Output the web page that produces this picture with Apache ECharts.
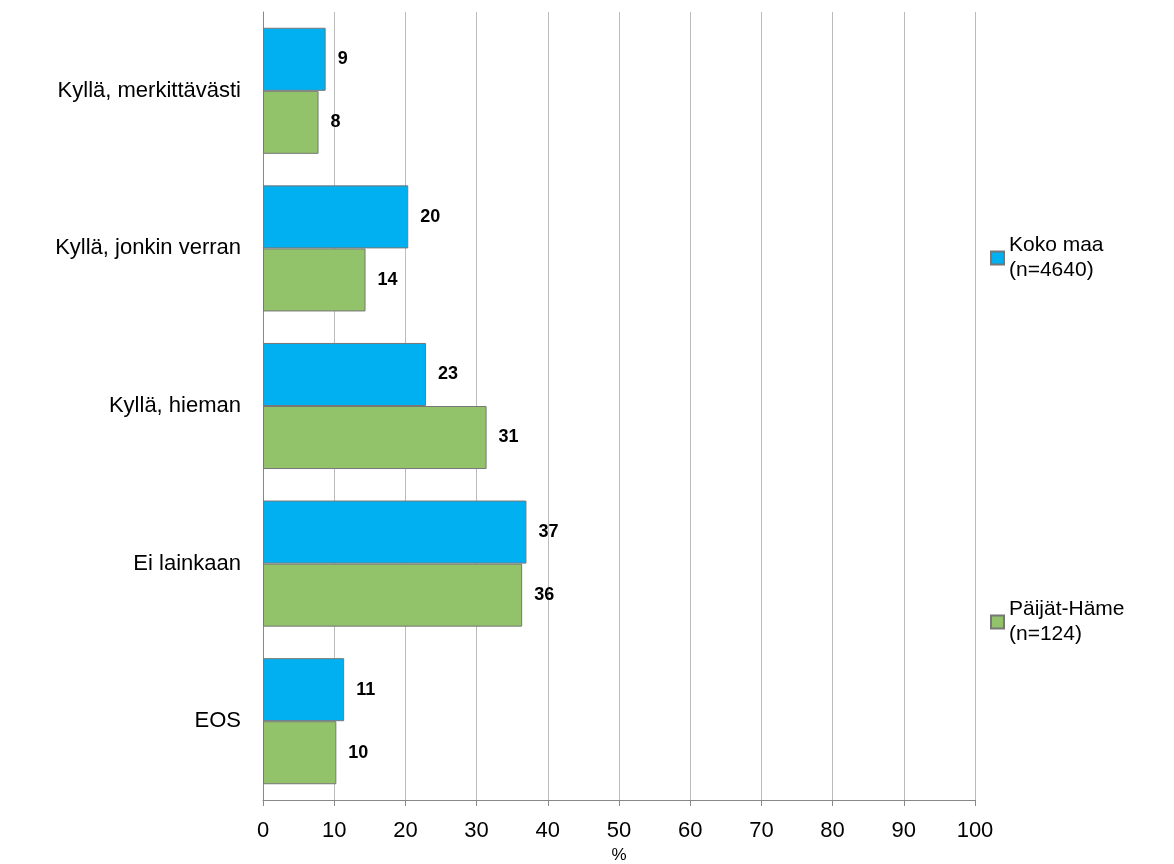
<!DOCTYPE html>
<html>
<head>
<meta charset="utf-8">
<script src="https://cdn.jsdelivr.net/npm/echarts@6/dist/echarts.min.js"></script>
<style>html,body{margin:0;padding:0;background:#fff}#chart{width:1174px;height:864px}</style>
</head>
<body>
<div id="chart"></div>
<script>
var categories = ['Kyllä, merkittävästi', 'Kyllä, jonkin verran', 'Kyllä, hieman', 'Ei lainkaan', 'EOS'];
var kokoMaa = [8.8, 20.4, 22.9, 37.0, 11.4];
var paijatHame = [7.8, 14.4, 31.4, 36.4, 10.3];
var seriesNames = ['Koko maa\n(n=4640)', 'Päijät-Häme\n(n=124)'];

var font = 'Liberation Sans, Arial, sans-serif';
var labelOpt = {
  show: true, position: 'right', distance: 12,
  fontFamily: font, fontSize: 18, fontWeight: 'bold', color: '#000',
  formatter: function (p) { return Math.round(p.value); }
};
var legendText = { fontFamily: font, fontSize: 21, color: '#000', lineHeight: 25 };

var chart = echarts.init(document.getElementById('chart'));
chart.setOption({
  animation: false,
  grid: { left: 263, right: 199, top: 12, bottom: 64, containLabel: false, outerBoundsMode: 'none' },
  legend: [
    { data: [{ name: seriesNames[0], icon: 'rect' }], orient: 'vertical', left: 985, top: 228,
      itemWidth: 13, itemHeight: 13, itemGap: 4, textStyle: legendText },
    { data: [{ name: seriesNames[1], icon: 'rect' }], orient: 'vertical', left: 985, top: 592,
      itemWidth: 13, itemHeight: 13, itemGap: 4, textStyle: legendText }
  ],
  xAxis: {
    type: 'value', min: 0, max: 100, interval: 10,
    name: '%', nameLocation: 'middle', nameGap: 26,
    nameTextStyle: { fontFamily: font, fontSize: 17, color: '#000' },
    axisLine: { show: true, lineStyle: { color: '#888' } },
    axisTick: { show: true, length: 6, lineStyle: { color: '#888' } },
    axisLabel: { fontFamily: font, fontSize: 22, color: '#000', margin: 20 },
    splitLine: { show: true, lineStyle: { color: '#bbb' } }
  },
  yAxis: {
    type: 'category', data: categories, inverse: true,
    axisLine: { show: true, lineStyle: { color: '#888' } },
    axisTick: { show: false },
    axisLabel: { fontFamily: font, fontSize: 22, color: '#000', margin: 22 }
  },
  series: [
    { name: seriesNames[0], type: 'bar', data: kokoMaa, barGap: '0%', barCategoryGap: '20%',
      itemStyle: { color: '#00b0f0', borderColor: '#777', borderWidth: 1 }, label: labelOpt },
    { name: seriesNames[1], type: 'bar', data: paijatHame,
      itemStyle: { color: '#92c36a', borderColor: '#777', borderWidth: 1 }, label: labelOpt }
  ]
});
</script>
</body>
</html>
